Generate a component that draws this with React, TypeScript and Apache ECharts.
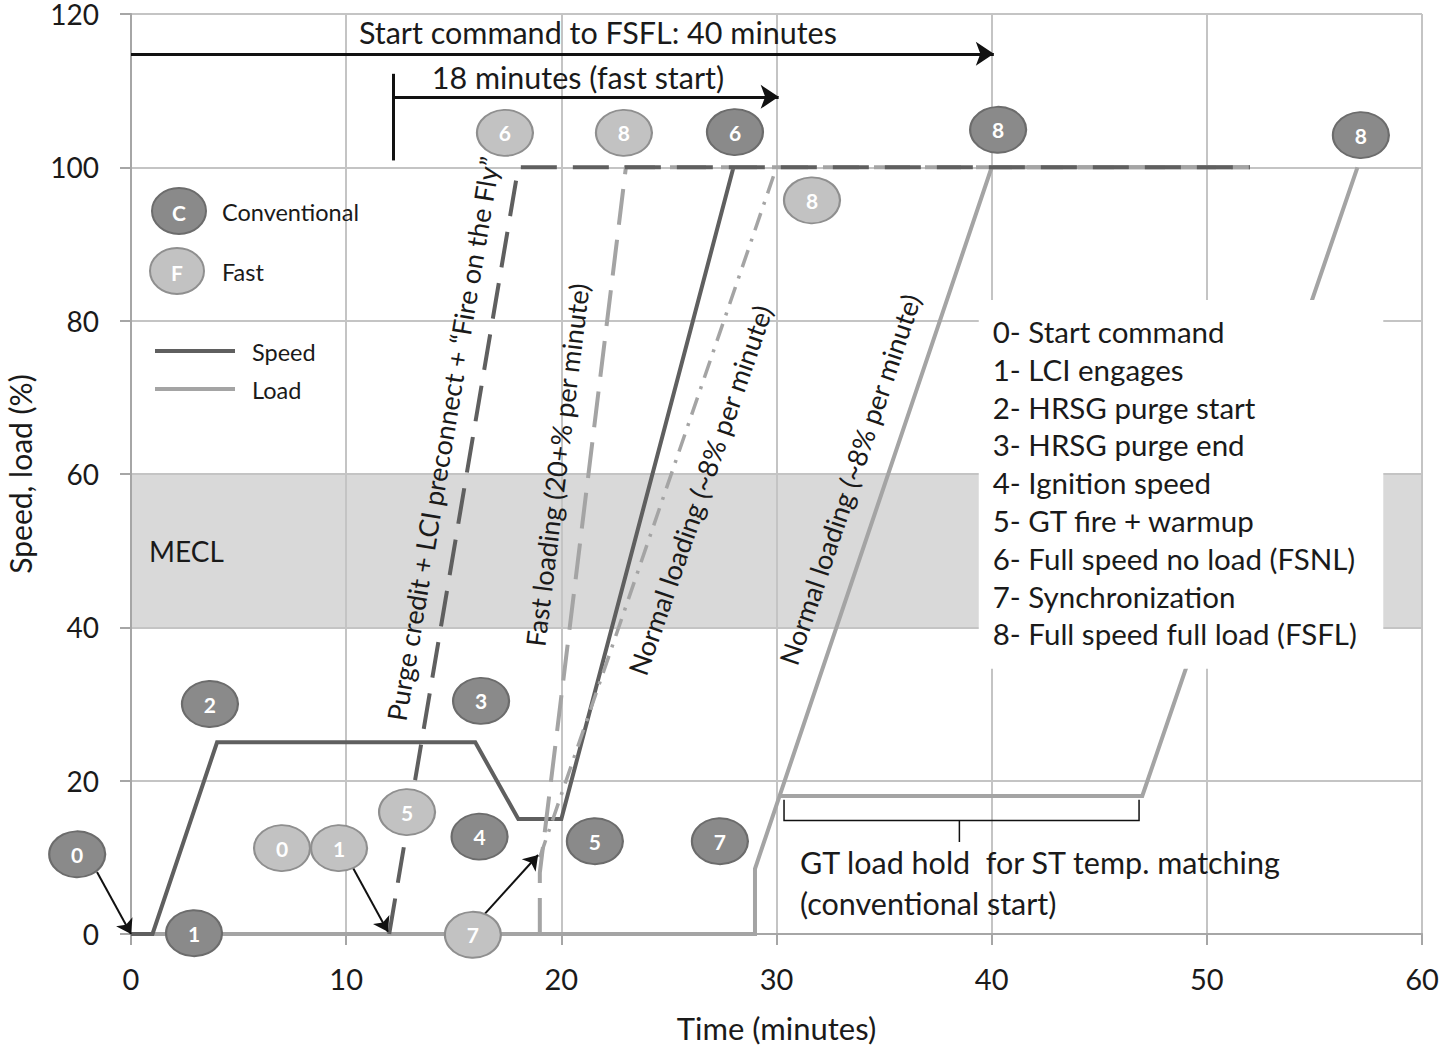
import React, { useEffect, useRef } from "react";
import * as echarts from "echarts";

const FONT = "Lato, 'Open Sans', sans-serif";
const DARK = "#5f5f5f";
const LIGHT = "#a4a4a4";
const TEXT = "#1a1a1a";

// axes
const xMin = 0, xMax = 60, xStep = 10;
const yMin = 0, yMax = 120, yStep = 20;

// curves [minute, %]
const convSpeed = [[0, 0], [1, 0], [4, 25], [16, 25], [18, 15], [20, 15], [28, 100]];
const convLoad = [[0, 0], [29, 0], [29, 8.5], [40, 100], [52, 100]];
const convLoadHold = [[30.14, 18], [47, 18], [57, 100]];
const fastSpeed = [[12, 0], [18, 100], [52, 100]];
const fastLoad = [[19, 0], [19, 8], [23, 100], [52, 100]];
const fastNormalLoad = [[19, 10], [30, 100]];

// MECL band
const meclBand = [40, 60];

// event markers: [label, minute, %]
const convMarkers: [string, number, number][] = [
  ["0", -2.5, 10.4],
  ["1", 2.93, 0.1],
  ["2", 3.67, 30],
  ["3", 16.27, 30.4],
  ["4", 16.2, 12.7],
  ["5", 21.56, 12.1],
  ["6", 28.07, 104.6],
  ["7", 27.37, 12.1],
  ["8", 40.3, 104.9],
  ["8", 57.16, 104.2],
];
const fastMarkers: [string, number, number][] = [
  ["0", 7.02, 11.2],
  ["1", 9.67, 11.2],
  ["5", 12.83, 15.9],
  ["6", 17.38, 104.5],
  ["7", 15.89, -0.1],
  ["8", 22.91, 104.5],
  ["8", 31.65, 95.7],
];

// annotation arrows
const pointerArrows = [
  [[-1.58, 8.1], [0, 0]],
  [[10.32, 8.6], [11.94, 0.3]],
  [[16.4, 2.5], [18.92, 10.3]],
];
const spanArrows = [
  [[0, 114.8], [40.1, 114.8]],
  [[12.2, 109.2], [30.1, 109.2]],
];
const spanTick = [[12.2, 100.9], [12.2, 112.2]];
const holdBrace = [[30.35, 17.5], [30.35, 14.8], [38.5, 14.8], [38.5, 12.0], [38.5, 14.8], [46.85, 14.8], [46.85, 17.5]];

const spanTexts: [string, number, number][] = [
  ["Start command to FSFL: 40 minutes", 21.7, 117.6],
  ["18 minutes (fast start)", 20.77, 111.8],
];
const slopeNotes: [string, number, number, number][] = [
  ["Purge credit + LCI preconnect + \u201CFire on the Fly\u201D", 14.5, 64.6, 80.5],
  ["Fast loading (20+% per minute)", 19.8, 61.2, 83],
  ["Normal loading (~8% per minute)", 26.44, 57.9, 71],
  ["Normal loading (~8% per minute)", 33.4, 59.3, 71.4],
];
const holdTexts: [string, number, number][] = [
  ["GT load hold  for ST temp. matching", 31.09, 9.4],
  ["(conventional start)", 31.09, 4.04],
];

const steps = [
  "0- Start command",
  "1- LCI engages",
  "2- HRSG purge start",
  "3- HRSG purge end",
  "4- Ignition speed",
  "5- GT fire + warmup",
  "6- Full speed no load (FSNL)",
  "7- Synchronization",
  "8- Full speed full load (FSFL)",
];
const stepBox = [[39.4, 82.7], [58.2, 34.6]];
const stepTextStart = [40.05, 78.6];

const legendMarkers = [
  { label: "C", text: "Conventional", fill: "#8a8a8a", stroke: "#6c6c6c" },
  { label: "F", text: "Fast", fill: "#c2c2c2", stroke: "#8f8f8f" },
];
const legendLines = [
  { text: "Speed", color: DARK },
  { text: "Load", color: LIGHT },
];

export default function App() {
  const ref = useRef<HTMLDivElement>(null);

  useEffect(() => {
    document.body.style.margin = "0";
    const chart = echarts.init(ref.current!, undefined, { renderer: "svg" });

    const line = (data: number[][], color: string, width: number, type: any) => ({
      type: "line",
      data,
      symbol: "none",
      silent: true,
      lineStyle: { color, width, type, cap: "butt", join: "miter" },
    });

    const markerSeries = (pts: [string, number, number][], fill: string, stroke: string) => ({
      type: "scatter",
      clip: false,
      z: 6,
      symbol: "circle",
      symbolSize: [56, 46],
      itemStyle: { color: fill, borderColor: stroke, borderWidth: 2, opacity: 1 },
      label: {
        show: true,
        position: "inside",
        formatter: (p: any) => p.name,
        color: "#ffffff",
        fontWeight: "bold",
        fontSize: 21,
        fontFamily: FONT,
      },
      data: pts.map(([n, x, y]) => ({ name: n, value: [x, y] })),
    });

    const axisCommon = {
      type: "value",
      nameLocation: "middle",
      axisLine: { show: true, lineStyle: { color: "#a6a6a6", width: 2 } },
      axisTick: { show: true, length: 11, lineStyle: { color: "#a6a6a6", width: 2 } },
      splitLine: { show: true, lineStyle: { color: "#c4c4c4", width: 2 } },
    };

    chart.setOption({
      animation: false,
      textStyle: { fontFamily: FONT },
      grid: { left: 131, right: 18, top: 14, bottom: 114, containLabel: false, outerBoundsMode: "none" },
      xAxis: {
        ...axisCommon,
        min: xMin,
        max: xMax,
        interval: xStep,
        name: "Time (minutes)",
        nameGap: 78,
        nameTextStyle: { fontSize: 31, color: TEXT, fontFamily: FONT },
        axisLabel: { fontSize: 29, color: TEXT, margin: 30, fontFamily: FONT },
      },
      yAxis: {
        ...axisCommon,
        min: yMin,
        max: yMax,
        interval: yStep,
        name: "Speed, load (%)",
        nameGap: 96,
        nameTextStyle: { fontSize: 30, color: TEXT, fontFamily: FONT, lineHeight: 30 },
        axisLabel: { fontSize: 28, color: TEXT, margin: 32, fontFamily: FONT, lineHeight: 24, padding: [5, 0, 0, 0] },
      },
      series: [
        line(convLoad, LIGHT, 4, "solid"),
        line(convLoadHold, LIGHT, 4, "solid"),
        line(convSpeed, DARK, 4, "solid"),
        line(fastLoad, LIGHT, 4, [36, 15]),
        line(fastNormalLoad, LIGHT, 3.5, [18, 9, 3, 9]),
        line(fastSpeed, DARK, 4, [36, 16]),
        {
          type: "lines",
          coordinateSystem: "cartesian2d",
          clip: false,
          z: 5,
          symbol: ["none", "arrow"],
          symbolSize: [10, 14],
          lineStyle: { color: "#111", width: 2, opacity: 1 },
          data: pointerArrows.map((c) => ({ coords: c })),
        },
        {
          type: "lines",
          coordinateSystem: "cartesian2d",
          clip: false,
          z: 5,
          symbol: ["none", "arrow"],
          symbolSize: [14, 18],
          lineStyle: { color: "#111", width: 3, opacity: 1 },
          data: spanArrows.map((c) => ({ coords: c })),
        },
        {
          type: "lines",
          coordinateSystem: "cartesian2d",
          clip: false,
          z: 5,
          symbol: "none",
          lineStyle: { color: "#111", width: 3, opacity: 1 },
          data: [{ coords: spanTick }],
        },
        {
          type: "lines",
          coordinateSystem: "cartesian2d",
          polyline: true,
          clip: false,
          z: 5,
          symbol: "none",
          lineStyle: { color: "#111", width: 1.5, opacity: 1 },
          data: [{ coords: holdBrace }],
        },
        markerSeries(convMarkers, "#8a8a8a", "#6c6c6c"),
        markerSeries(fastMarkers, "#c2c2c2", "#8f8f8f"),
      ],
    });

    const px = (p: number[]) => chart.convertToPixel({ gridIndex: 0 }, p) as number[];
    const g: any[] = [];
    const txt = (text: string, x: number, y: number, size: number, align: string, extra: any = {}) => ({
      type: "text",
      x,
      y,
      z: 101,
      silent: true,
      ...extra,
      style: {
        text,
        fill: TEXT,
        font: `${size}px ${FONT}`,
        textAlign: align,
        textVerticalAlign: "middle",
        align,
        verticalAlign: "middle",
      },
    });

    // MECL band under grid lines
    const b0 = px([xMin, meclBand[1]]);
    const b1 = px([xMax, meclBand[0]]);
    g.push({
      type: "rect",
      z: -1,
      silent: true,
      shape: { x: b0[0], y: b0[1], width: b1[0] - b0[0], height: b1[1] - b0[1] },
      style: { fill: "#d9d9d9" },
    });
    const meclPos = px([0.84, 50]);
    g.push(txt("MECL", meclPos[0], meclPos[1], 28, "left"));

    spanTexts.forEach(([t, x, y]) => {
      const p = px([x, y]);
      g.push(txt(t, p[0], p[1], 30.5, "center"));
    });
    slopeNotes.forEach(([t, x, y, a]) => {
      const p = px([x, y]);
      g.push(txt(t, p[0], p[1], 27, "center", { rotation: (a * Math.PI) / 180 }));
    });
    holdTexts.forEach(([t, x, y]) => {
      const p = px([x, y]);
      g.push(txt(t, p[0], p[1], 30.5, "left"));
    });

    // step list box
    const s0 = px(stepBox[0]);
    const s1 = px(stepBox[1]);
    g.push({
      type: "rect",
      z: 100,
      silent: true,
      shape: { x: s0[0], y: s0[1], width: s1[0] - s0[0], height: s1[1] - s0[1] },
      style: { fill: "#ffffff" },
    });
    const st = px(stepTextStart);
    steps.forEach((t, i) => {
      g.push(txt(t, st[0], st[1] + i * 37.8, 29.5, "left"));
    });

    // legend
    const gl = px([0, 0])[0];
    const gt = px([0, yMax])[1];
    legendMarkers.forEach((m, i) => {
      const cx = gl + 48 - i * 2;
      const cy = gt + 197 + i * 60;
      g.push({
        type: "ellipse",
        z: 101,
        silent: true,
        shape: { cx, cy, rx: 27, ry: 23 },
        style: { fill: m.fill, stroke: m.stroke, lineWidth: 2 },
      });
      g.push({
        type: "text",
        x: cx,
        y: cy + 1,
        z: 102,
        silent: true,
        style: {
          text: m.label,
          fill: "#fff",
          font: `bold 21px ${FONT}`,
          textAlign: "center",
          textVerticalAlign: "middle",
          align: "center",
          verticalAlign: "middle",
        },
      });
      g.push(txt(m.text, gl + 91, cy + 1, 23.5, "left"));
    });
    legendLines.forEach((l, i) => {
      const y = gt + 337 + i * 38;
      g.push({
        type: "line",
        z: 101,
        silent: true,
        shape: { x1: gl + 24, y1: y, x2: gl + 104, y2: y },
        style: { stroke: l.color, lineWidth: 4 },
      });
      g.push(txt(l.text, gl + 121, y + 1, 23.5, "left"));
    });

    chart.setOption({ graphic: g });

    return () => chart.dispose();
  }, []);

  return <div ref={ref} style={{ width: 1440, height: 1048 }} />;
}
